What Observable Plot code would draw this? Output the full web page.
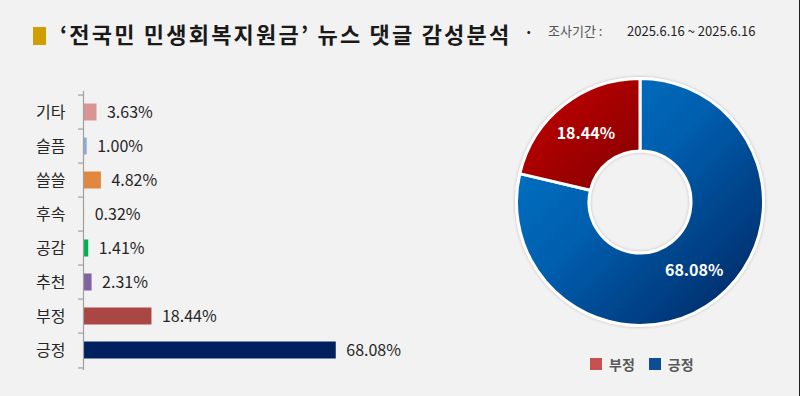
<!DOCTYPE html>
<html><head><meta charset="utf-8">
<script src="https://cdn.jsdelivr.net/npm/d3@7"></script>
<script src="https://cdn.jsdelivr.net/npm/@observablehq/plot@0.6"></script>
<style>
html,body{margin:0;padding:0;}
body{width:800px;height:396px;background:#f2f2f2;position:relative;overflow:hidden;font-family:"Noto Sans CJK KR","Noto Sans",sans-serif;}
#edge{position:absolute;right:0;top:0;width:1px;height:396px;background:#222;}
#mark{position:absolute;left:33px;top:27px;width:13px;height:18px;background:#CF9E00;}
.t{position:absolute;white-space:nowrap;}
#title{left:60px;top:22px;font-size:22px;line-height:22px;font-weight:bold;color:#1a1a1a;letter-spacing:2.2px;}
#dot{left:524px;top:23px;font-size:16px;line-height:16px;font-weight:bold;color:#222;}
#lab{left:548px;top:24px;font-size:13px;line-height:13px;color:#555;}
#dates{left:627px;top:24px;font-size:13px;line-height:13px;color:#222;}
#bars{position:absolute;left:0;top:80px;}
#donut{position:absolute;left:490px;top:52px;}
#legend{position:absolute;left:590px;top:347px;}
</style></head>
<body>
<div id="edge"></div>
<div id="mark"></div>
<div class="t" id="title">‘전국민 민생회복지원금’ 뉴스 댓글 감성분석</div>
<div class="t" id="dot">·</div>
<div class="t" id="lab">조사기간 :</div>
<div class="t" id="dates">2025.6.16 ~ 2025.6.16</div>
<div id="bars"></div>
<div id="donut"></div>
<div id="legend"></div>
<script>
// ---- data ----
const categories = ["기타", "슬픔", "쓸쓸", "후속", "공감", "추천", "부정", "긍정"];
const values = [3.63, 1.00, 4.82, 0.32, 1.41, 2.31, 18.44, 68.08];
const barColors = ["#D99593", "#8FAADC", "#E0883D", "#E6DF4A", "#00B050", "#8064A2", "#AA4643", "#002060"];
const donutCategories = ["긍정", "부정"];
const donutValues = [68.08, 18.44];
const legendCategories = ["부정", "긍정"];
const legendColors = ["#C8504E", "#0F4C97"];

const font = '"Noto Sans CJK KR","Noto Sans",sans-serif';
const barData = categories.map((c, i) => ({cat: c, value: values[i], color: barColors[i]}));

// ---- bar chart ----
const W = 480, H = 300, mT = 11, mB = 10, mL = 83, mR = 100;
const bw = (H - mT - mB) / categories.length;
const xMax = 80;
const tickLen = 5 * xMax / (W - mL - mR);

const bars = Plot.plot({
  width: W, height: H,
  marginTop: mT, marginBottom: mB, marginLeft: mL, marginRight: mR,
  style: {background: "transparent", fontFamily: font, overflow: "visible"},
  x: {domain: [0, xMax], axis: null},
  y: {domain: categories, padding: 0, axis: null},
  marks: [
    Plot.barX(barData, {x: "value", y: "cat", fill: "color", insetTop: 8.5, insetBottom: 8.5, insetLeft: 1}),
    Plot.ruleX([0], {stroke: "#A0A0A0", strokeWidth: 1.2}),
    Plot.ruleY(categories, {y: d => d, dy: -bw / 2, x1: -tickLen, x2: 0, stroke: "#A0A0A0", strokeWidth: 1.2}),
    Plot.ruleY([categories[categories.length - 1]], {y: d => d, dy: bw / 2, x1: -tickLen, x2: 0, stroke: "#A0A0A0", strokeWidth: 1.2}),
    Plot.text(categories, {y: d => d, x: 0, dx: -18, textAnchor: "end", fontSize: 16, fill: "#262626"}),
    Plot.text(barData, {y: "cat", x: "value", text: d => d.value.toFixed(2) + "%", dx: 10, textAnchor: "start", fontSize: 16, fill: "#262626"})
  ]
});
document.getElementById("bars").appendChild(bars);

// ---- donut ----
const DW = 300, DH = 300, rOuter = 123.5, rInner = 51;
const donutData = donutCategories.map((c, i) => ({cat: c, value: donutValues[i]}));
const donut = Plot.plot({
  width: DW, height: DH, margin: 0,
  style: {background: "transparent", fontFamily: font, overflow: "visible"},
  x: {axis: null}, y: {axis: null},
  marks: [
    (index, scales, vals, dims) => {
      const g = d3.create("svg:g");
      const cx = dims.width / 2, cy = dims.height / 2;
      const defs = g.append("defs");
      const gb = defs.append("linearGradient").attr("id", "gBlue").attr("x1", 0).attr("y1", 0).attr("x2", 1).attr("y2", 1);
      gb.append("stop").attr("offset", 0).attr("stop-color", "#0A7ACB");
      gb.append("stop").attr("offset", 0.45).attr("stop-color", "#005EAE");
      gb.append("stop").attr("offset", 1).attr("stop-color", "#00225C");
      const gr = defs.append("linearGradient").attr("id", "gRed").attr("x1", 0).attr("y1", 0).attr("x2", 1).attr("y2", 1);
      gr.append("stop").attr("offset", 0).attr("stop-color", "#C80000");
      gr.append("stop").attr("offset", 1).attr("stop-color", "#820000");
      const fl = defs.append("filter").attr("id", "sh").attr("x", -0.2).attr("y", -0.2).attr("width", 1.4).attr("height", 1.4);
      fl.append("feDropShadow").attr("dx", 0).attr("dy", 0).attr("stdDeviation", 1.5).attr("flood-color", "#000").attr("flood-opacity", 0.25);
      const pie = d3.pie().sort(null).value(d => d.value);
      const arcs = pie(donutData);
      const arc = d3.arc().innerRadius(rInner).outerRadius(rOuter);
      const gg = g.append("g").attr("transform", `translate(${cx},${cy})`);
      gg.append("g").attr("filter", "url(#sh)").selectAll("path").data(arcs).join("path")
        .attr("d", arc)
        .attr("fill", d => d.data.cat === "긍정" ? "url(#gBlue)" : "url(#gRed)")
        .attr("stroke", "#fff").attr("stroke-width", 3).attr("stroke-linejoin", "round");
      const lr = (rInner + rOuter) / 2;
      gg.selectAll("text").data(arcs).join("text")
        .attr("x", d => lr * Math.sin((d.startAngle + d.endAngle) / 2))
        .attr("y", d => -lr * Math.cos((d.startAngle + d.endAngle) / 2))
        .attr("text-anchor", "middle").attr("dy", "0.36em")
        .attr("fill", "#fff").attr("font-weight", "bold").attr("font-size", 16)
        .text(d => d.data.value.toFixed(2) + "%");
      return g.node();
    }
  ]
});
document.getElementById("donut").appendChild(donut);

// ---- legend ----
const legend = Plot.legend({
  color: {type: "categorical", domain: legendCategories, range: legendColors},
  swatchSize: 12,
  style: {fontSize: "14px", fontWeight: "bold", color: "#595959", fontFamily: font, background: "transparent"}
});
document.getElementById("legend").appendChild(legend);
</script>
</body></html>
